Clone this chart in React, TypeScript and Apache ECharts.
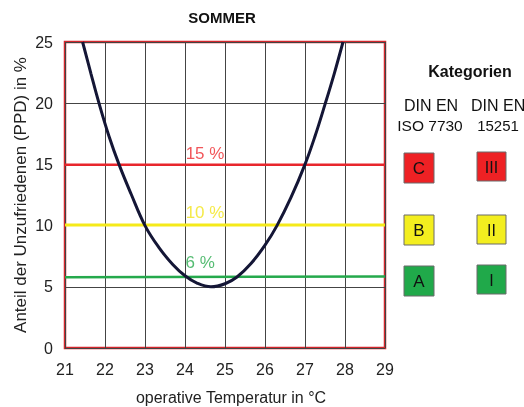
import React, { useEffect, useRef } from "react";
import * as echarts from "echarts";

const xTicks = [21, 22, 23, 24, 25, 26, 27, 28, 29];
const yTicks = [0, 5, 10, 15, 20, 25];
const ppdCurve: [number, number][] = [
  [21.44, 25], [21.65, 22.4], [21.85, 20], [22.1, 17.3], [22.35, 15], [22.65, 12.6],
  [23.0, 10], [23.35, 8.2], [23.7, 6.8], [24.0, 5.9], [24.3, 5.3], [24.65, 5.0],
  [25.0, 5.25], [25.3, 5.8], [25.65, 6.9], [26.0, 8.4], [26.3, 10], [26.65, 12.3],
  [27.0, 15], [27.25, 17.3], [27.5, 19.9], [27.73, 22.4], [27.95, 25],
];
const limit15: [number, number][] = [[21, 14.97], [29, 14.97]];
const limit10: [number, number][] = [[21, 10.05], [29, 10.05]];
const limit6: [number, number][] = [[21, 5.78], [29, 5.85]];
const limitLabels = [
  { text: "15 %", x: 24.5, y: 15.9, color: "#ee2a30" },
  { text: "10 %", x: 24.5, y: 11.1, color: "#f3e51a" },
  { text: "6 %", x: 24.38, y: 6.95, color: "#2bab4f" },
];
const categoriesIso = ["C", "B", "A"];
const categoriesEn = ["III", "II", "I"];
const categoryColors = ["#ee2124", "#f3ee1f", "#20a94a"];

export default function App() {
  const ref = useRef<HTMLDivElement>(null);
  useEffect(() => {
    const chart = echarts.init(ref.current!, null, { renderer: "svg" });
    const font = "'Liberation Sans', Arial, sans-serif";
    const isoBoxY = [153, 215, 266];
    const enBoxY = [152, 215, 265];
    const graphic: any[] = [
      { type: "text", x: 222, y: 17, style: { text: "SOMMER", font: `bold 15px ${font}`, fill: "#111", textAlign: "center", textVerticalAlign: "middle" } },
      { type: "text", x: 470, y: 71, style: { text: "Kategorien", font: `bold 16px ${font}`, fill: "#111", textAlign: "center", textVerticalAlign: "middle" } },
      { type: "text", x: 431, y: 105, style: { text: "DIN EN", font: `16px ${font}`, fill: "#111", textAlign: "center", textVerticalAlign: "middle" } },
      { type: "text", x: 430, y: 125, style: { text: "ISO 7730", font: `15.5px ${font}`, fill: "#111", textAlign: "center", textVerticalAlign: "middle" } },
      { type: "text", x: 471, y: 105, style: { text: "DIN EN", font: `16px ${font}`, fill: "#111", textAlign: "left", textVerticalAlign: "middle" } },
      { type: "text", x: 498, y: 125, style: { text: "15251", font: `15px ${font}`, fill: "#111", textAlign: "center", textVerticalAlign: "middle" } },
    ];
    isoBoxY.forEach((y, i) => {
      graphic.push({ type: "rect", shape: { x: 404, y, width: 30, height: 30 }, style: { fill: categoryColors[i], stroke: "#6a6a6a", lineWidth: 1 } });
      graphic.push({ type: "text", x: 419, y: y + 15.5, style: { text: categoriesIso[i], font: `17px ${font}`, fill: "#111", textAlign: "center", textVerticalAlign: "middle" } });
    });
    enBoxY.forEach((y, i) => {
      graphic.push({ type: "rect", shape: { x: 477, y, width: 29, height: 29 }, style: { fill: categoryColors[i], stroke: "#6a6a6a", lineWidth: 1 } });
      graphic.push({ type: "text", x: 491.5, y: y + 15, style: { text: categoriesEn[i], font: `16px ${font}`, fill: "#111", textAlign: "center", textVerticalAlign: "middle" } });
    });

    chart.setOption({
      animation: false,
      textStyle: { fontFamily: font },
      grid: {
        left: 65, right: 139, top: 42, bottom: 59, outerBoundsMode: "none", containLabel: false,
        show: true, borderColor: "#d4262c", borderWidth: 2.5, backgroundColor: "transparent",
      },
      xAxis: {
        type: "value", min: 21, max: 29, interval: 1,
        name: "operative Temperatur in °C", nameLocation: "middle", nameGap: 41,
        nameTextStyle: { fontSize: 16, color: "#222", padding: [0, 0, 0, 12] },
        axisLine: { show: false }, axisTick: { show: false },
        axisLabel: { fontSize: 16, color: "#222", margin: 13 },
        splitLine: { show: true, lineStyle: { color: "#444", width: 1 } },
      },
      yAxis: {
        type: "value", min: 0, max: 25, interval: 5,
        name: "Anteil der Unzufriedenen (PPD) in %", nameLocation: "middle", nameGap: 36, nameMoveOverlap: false,
        nameTextStyle: { fontSize: 17, color: "#222" },
        axisLine: { show: false }, axisTick: { show: false },
        axisLabel: { fontSize: 16, color: "#222", margin: 12 },
        splitLine: { show: true, lineStyle: { color: "#444", width: 1 } },
      },
      series: [
        { type: "line", data: limit10, symbol: "none", lineStyle: { color: "#f5ea1a", width: 3 }, z: 3 },
        { type: "line", data: limit6, symbol: "none", lineStyle: { color: "#25a94c", width: 2.5 }, z: 3 },
        { type: "line", data: limit15, symbol: "none", lineStyle: { color: "#e8262c", width: 2.5 }, z: 3 },
        { type: "line", data: ppdCurve, symbol: "none", smooth: 0.4, lineStyle: { color: "#141636", width: 3 }, z: 4 },
        {
          type: "scatter", symbolSize: 0, z: 5,
          data: limitLabels.map((l) => ({
            value: [l.x, l.y],
            label: { show: true, formatter: l.text, position: "inside", fontSize: 17, color: l.color },
          })),
        },
      ],
      graphic,
    });
    return () => chart.dispose();
  }, []);
  return <div ref={ref} style={{ position: "fixed", left: 0, top: 0, width: 524, height: 407 }} />;
}
